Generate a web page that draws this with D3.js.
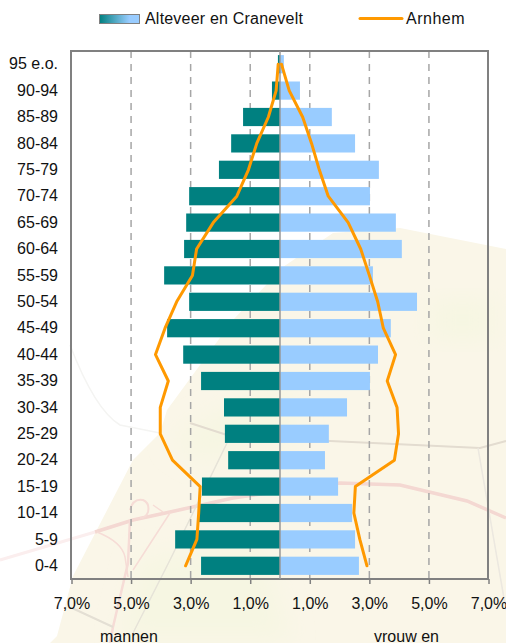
<!DOCTYPE html>
<html>
<head>
<meta charset="utf-8">
<script src="https://cdn.jsdelivr.net/npm/d3@7"></script>
<style>
html, body { margin: 0; padding: 0; background: #fff; overflow: hidden; }
svg { display: block; }
text { font-family: "Liberation Sans", Arial, sans-serif; fill: #111; }
</style>
</head>
<body>
<svg id="chart" width="506" height="643"></svg>
<script>
var ageGroups = ["95 e.o.", "90-94", "85-89", "80-84", "75-79", "70-74", "65-69", "60-64", "55-59", "50-54",
                 "45-49", "40-44", "35-39", "30-34", "25-29", "20-24", "15-19", "10-14", "5-9", "0-4"];
var barMen   = [0.07, 0.27, 1.24, 1.64, 2.05, 3.05, 3.15, 3.22, 3.89, 3.05, 3.79, 3.25, 2.65, 1.88, 1.85, 1.74, 2.62, 2.72, 3.52, 2.65];
var barWomen = [0.13, 0.67, 1.74, 2.52, 3.32, 3.02, 3.89, 4.09, 3.12, 4.60, 3.72, 3.29, 3.02, 2.25, 1.64, 1.51, 1.95, 2.42, 2.52, 2.65];
var lineMen   = [0.06, 0.13, 0.39, 0.78, 1.06, 1.45, 2.24, 2.80, 2.94, 3.47, 3.86, 4.18, 3.75, 4.02, 4.02, 3.61, 2.68, 2.73, 2.79, 3.17];
var lineWomen = [0.05, 0.31, 0.76, 1.06, 1.32, 1.62, 2.29, 2.71, 3.00, 3.28, 3.47, 3.88, 3.60, 3.93, 3.98, 3.84, 2.53, 2.48, 2.68, 2.92];
var tickValues = [-7, -5, -3, -1, 1, 3, 5, 7];

var svg = d3.select("#chart");
var plotLeft = 71, plotRight = 488, plotTop = 51, plotBottom = 579;

var x = d3.scaleLinear().domain([-7, 7]).range([plotLeft + 0.5, plotRight + 0.5]);
var y = d3.scaleBand().domain(ageGroups).range([plotTop, plotBottom]).paddingInner(0.31).paddingOuter(0.155);

drawMap();
drawLegend();
drawGrid();
drawBars();
drawAxes();
drawLines();

// faded map behind the chart
function drawMap(){
    var defs = svg.append("defs");
    defs.append("filter").attr("id", "soft")
        .attr("x", "-30%").attr("y", "-30%").attr("width", "160%").attr("height", "160%")
        .append("feGaussianBlur").attr("stdDeviation", 12);
    defs.append("filter").attr("id", "softer")
        .append("feGaussianBlur").attr("stdDeviation", 0.6);

    var map = svg.append("g");
    map.append("path")
        .attr("d", "M 50 643 L 57 636 L 73 576 L 133 460 L 160 433 L 167 410 L 233 320 L 283 267 L 333 233 L 400 228 L 506 249 L 506 643 Z")
        .attr("fill", "#faf6e8");

    var patches = [
        "M 140 560 L 260 540 L 290 640 L 120 640 Z",
        "M 430 300 L 495 300 L 495 340 L 430 340 Z",
        "M 170 440 L 280 380 L 300 440 L 200 460 Z"
    ];
    map.selectAll("path.patch").data(patches).enter().append("path")
        .attr("class", "patch")
        .attr("d", function(d) { return d; })
        .attr("fill", "#f6f6e2")
        .attr("filter", "url(#soft)");

    var roads = [
        ["M 0 560 L 95 532", "#fbeeee", 3],
        ["M 95 532 L 133 520 L 170 512 L 233 498 L 340 483 L 400 485 L 467 501 L 506 518", "#f4d8d2", 3.5],
        ["M 97 532 Q 122 542 125 557 L 128 577", "#f6dcd6", 1.5],
        ["M 130 520 L 128 563 L 113 627 L 110 643", "#f6dcd6", 2.5],
        ["M 130 510 Q 133 498 143 500 Q 150 503 148 512 Q 146 518 140 518", "#f6dcd6", 2],
        ["M 153 505 L 163 512", "#f6dcd6", 1.5],
        ["M 133 570 L 170 513", "#f6dcd6", 1.5],
        ["M 72 608 L 113 627", "#e4dfd4", 2],
        ["M 133 633 L 170 560 L 227 443", "#e6e3d8", 1.5],
        ["M 190 423 L 227 435 L 330 441 L 480 448 L 506 441", "#e3dcd0", 2],
        ["M 478 448 L 506 610", "#ece8e0", 1.5],
        ["M 70 345 Q 95 410 120 425 L 160 433", "#f4f4f2", 1.5]
    ];
    map.selectAll("path.road").data(roads).enter().append("path")
        .attr("class", "road")
        .attr("d", function(d) { return d[0]; })
        .attr("fill", "none")
        .attr("stroke", function(d) { return d[1]; })
        .attr("stroke-width", function(d) { return d[2]; })
        .attr("filter", "url(#softer)");
}

function drawLegend(){
    var grad = svg.append("defs").append("linearGradient").attr("id", "swatch");
    grad.append("stop").attr("offset", "0%").attr("stop-color", "#008080");
    grad.append("stop").attr("offset", "75%").attr("stop-color", "#99ccff");
    svg.append("rect")
        .attr("x", 99.5).attr("y", 14.5).attr("width", 40).attr("height", 9)
        .attr("fill", "url(#swatch)")
        .attr("stroke", "#808080");
    svg.append("text").attr("x", 145).attr("y", 23.5).attr("font-size", 16).attr("letter-spacing", 0.2).text("Alteveer en Cranevelt");
    svg.append("line")
        .attr("x1", 360).attr("x2", 402).attr("y1", 18.5).attr("y2", 18.5)
        .attr("stroke", "#ff9900").attr("stroke-width", 3).attr("stroke-linecap", "round");
    svg.append("text").attr("x", 406).attr("y", 23.5).attr("font-size", 16).attr("letter-spacing", 0.5).text("Arnhem");
}

function drawGrid(){
    svg.selectAll("line.grid").data(tickValues.slice(1, -1)).enter().append("line")
        .attr("class", "grid")
        .attr("x1", function(d) { return x(d); })
        .attr("x2", function(d) { return x(d); })
        .attr("y1", plotTop).attr("y2", plotBottom)
        .attr("stroke", "#a6a6a6")
        .attr("stroke-width", 1.5)
        .attr("stroke-dasharray", "7,6");
}

function drawBars(){
    svg.selectAll("rect.men").data(barMen).enter().append("rect")
        .attr("class", "men")
        .attr("x", function(d) { return x(-d); })
        .attr("y", function(d, i) { return y(ageGroups[i]); })
        .attr("width", function(d) { return x(0) - x(-d); })
        .attr("height", y.bandwidth())
        .attr("fill", "#008080");
    svg.selectAll("rect.women").data(barWomen).enter().append("rect")
        .attr("class", "women")
        .attr("x", x(0))
        .attr("y", function(d, i) { return y(ageGroups[i]); })
        .attr("width", function(d) { return x(d) - x(0); })
        .attr("height", y.bandwidth())
        .attr("fill", "#99ccff");
}

function drawAxes(){
    // frame round the pyramid, top and sides included
    svg.append("rect")
        .attr("x", plotLeft).attr("y", plotTop)
        .attr("width", plotRight - plotLeft).attr("height", plotBottom - plotTop)
        .attr("fill", "none")
        .attr("stroke", "#808080")
        .attr("stroke-width", 2);
    svg.append("line")
        .attr("x1", x(0)).attr("x2", x(0)).attr("y1", plotTop).attr("y2", plotBottom)
        .attr("stroke", "#999999").attr("stroke-width", 1.5);

    var xAxis = d3.axisBottom(x)
        .tickValues(tickValues)
        .tickSize(5)
        .tickPadding(13.5)
        .tickFormat(function(d) { return Math.abs(d).toFixed(1).replace(".", ",") + "%"; });
    var gx = svg.append("g").attr("transform", "translate(0," + plotBottom + ")").call(xAxis);
    gx.select(".domain").remove();
    gx.selectAll("line").attr("stroke", "#808080").attr("stroke-width", 1.5);
    gx.selectAll("text").attr("font-size", 16).style("fill", "#111");

    var yAxis = d3.axisLeft(y).tickSize(0).tickPadding(13);
    var gy = svg.append("g").attr("transform", "translate(" + plotLeft + ",0)").call(yAxis);
    gy.select(".domain").remove();
    gy.selectAll("text").attr("font-size", 16).style("fill", "#111");

    svg.append("text").attr("x", 100).attr("y", 642).attr("font-size", 16).text("mannen");
    svg.append("text").attr("x", 374).attr("y", 642).attr("font-size", 16).text("vrouw en");
}

function drawLines(){
    var line = d3.line()
        .x(function(d) { return x(d); })
        .y(function(d, i) { return y(ageGroups[i]) + y.bandwidth() / 2; });
    svg.selectAll("path.arnhem").data([lineMen.map(function(d) { return -d; }), lineWomen]).enter().append("path")
        .attr("class", "arnhem")
        .attr("d", line)
        .attr("fill", "none")
        .attr("stroke", "#ff9900")
        .attr("stroke-width", 3)
        .attr("stroke-linecap", "round")
        .attr("stroke-linejoin", "round");
}
</script>
</body>
</html>
